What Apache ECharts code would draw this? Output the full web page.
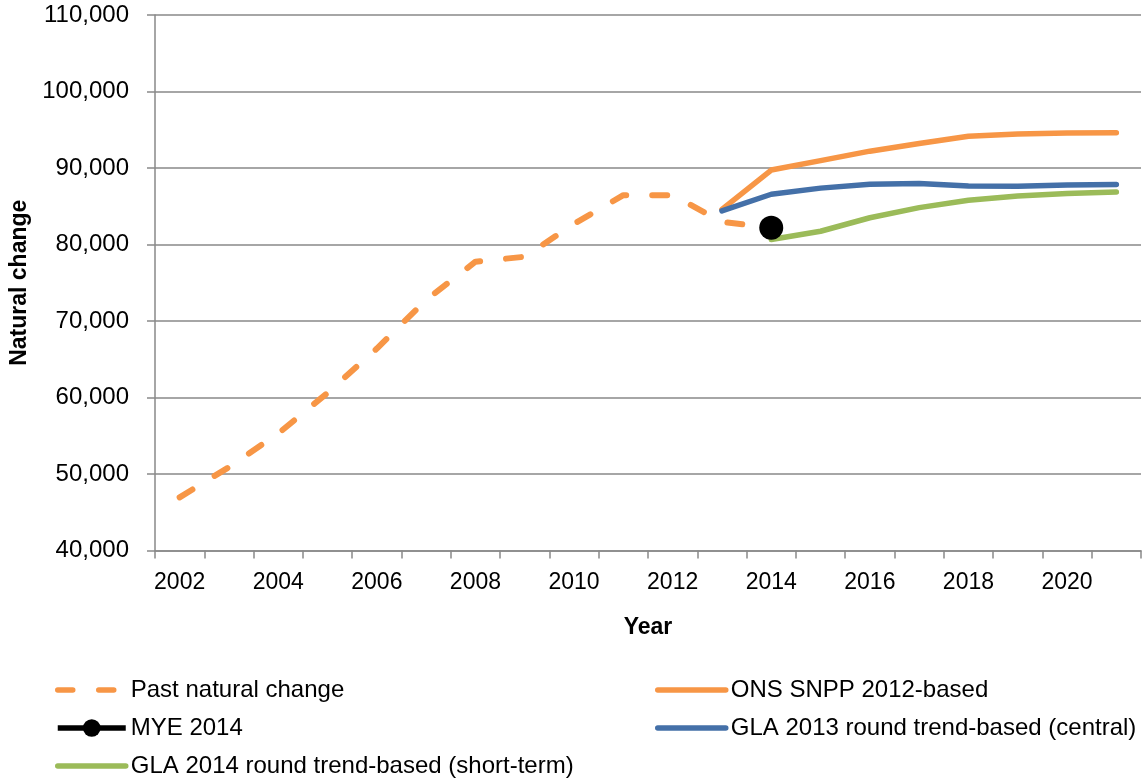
<!DOCTYPE html>
<html>
<head>
<meta charset="utf-8">
<script src="https://cdn.jsdelivr.net/npm/echarts@6/dist/echarts.min.js"></script>
<style>
html, body { margin: 0; padding: 0; background: #fff; }
#chart { width: 1146px; height: 782px; }
</style>
</head>
<body>
<div id="chart"></div>
<script>
// years on the x axis
var years = ['2002', '2003', '2004', '2005', '2006', '2007', '2008', '2009', '2010', '2011',
    '2012', '2013', '2014', '2015', '2016', '2017', '2018', '2019', '2020', '2021'];

// past natural change (dashed)
var pastNatural = [46950, 50900, 55300, 60600, 66400, 72750, 77750, 78400, 82700, 86450,
    86450, 82950, 82200, null, null, null, null, null, null, null];

// MYE 2014 single point
var mye2014 = [null, null, null, null, null, null, null, null, null, null,
    null, null, 82200, null, null, null, null, null, null, null];

// projections
var onsSnpp2012 = [null, null, null, null, null, null, null, null, null, null,
    null, 84600, 89730, 90970, 92200, 93200, 94140, 94440, 94570, 94620];
var gla2013Central = [null, null, null, null, null, null, null, null, null, null,
    null, 84400, 86570, 87370, 87890, 87980, 87650, 87620, 87780, 87850];
var gla2014Short = [null, null, null, null, null, null, null, null, null, null,
    null, null, 80650, 81730, 83500, 84820, 85780, 86350, 86660, 86850];

// y axis ticks
var yMin = 40000, yMax = 110000, yStep = 10000;

var FONT = '"Liberation Sans", Arial, sans-serif';
var GREY = '#898989';

var chart = echarts.init(document.getElementById('chart'));

// legend entry: thick line, no marker unless asked
function legendItem(name, withMarker) {
    return {
        name: name,
        itemStyle: withMarker ? {} : { opacity: 0 },
        lineStyle: { width: 5.5 }
    };
}

var legendBase = {
    orient: 'vertical',
    top: 678,
    height: 120,
    padding: 0,
    itemWidth: 68,
    itemHeight: 22,
    itemGap: 14,
    textStyle: { fontFamily: FONT, fontSize: 24, color: '#000', lineHeight: 24 }
};

chart.setOption({
    animation: false,
    backgroundColor: '#fff',
    textStyle: { fontFamily: FONT, color: '#000' },
    grid: { left: 155, right: 5, top: 15, bottom: 231.5, containLabel: false },
    legend: [
        Object.assign({}, legendBase, {
            left: 55,
            data: [
                legendItem('Past natural change', false),
                legendItem('MYE 2014', true),
                legendItem('GLA 2014 round trend-based (short-term)', false)
            ]
        }),
        Object.assign({}, legendBase, {
            left: 655,
            data: [
                legendItem('ONS SNPP 2012-based', false),
                legendItem('GLA 2013 round trend-based (central)', false)
            ]
        })
    ],
    xAxis: {
        type: 'category',
        data: years,
        boundaryGap: true,
        name: 'Year',
        nameLocation: 'middle',
        nameGap: 66,
        nameTextStyle: { fontFamily: FONT, fontSize: 23, fontWeight: 'bold', color: '#000' },
        axisLine: { lineStyle: { color: GREY, width: 1.5 } },
        axisTick: { show: true, interval: 0, length: 8, lineStyle: { color: GREY, width: 1.5 } },
        axisLabel: { interval: 1, margin: 21, fontFamily: FONT, fontSize: 23, color: '#000' },
        splitLine: { show: false }
    },
    yAxis: {
        type: 'value',
        min: yMin,
        max: yMax,
        interval: yStep,
        name: 'Natural change',
        nameLocation: 'middle',
        nameGap: 122,
        nameTextStyle: { fontFamily: FONT, fontSize: 23, fontWeight: 'bold', color: '#000' },
        axisLine: { show: true, lineStyle: { color: GREY, width: 1.5 } },
        axisTick: { show: true, length: 8, lineStyle: { color: GREY, width: 1.5 } },
        axisLabel: {
            margin: 26,
            fontFamily: FONT,
            fontSize: 24,
            color: '#000',
            formatter: function (v) { return v.toLocaleString('en-US'); }
        },
        splitLine: { show: true, lineStyle: { color: GREY, width: 1.5 } }
    },
    series: [{
        name: 'Past natural change',
        type: 'line',
        data: pastNatural,
        symbol: 'none',
        itemStyle: { color: '#F79646' },
        lineStyle: { color: '#F79646', width: 6, type: [15, 26], cap: 'round', join: 'round' }
    }, {
        name: 'ONS SNPP 2012-based',
        type: 'line',
        data: onsSnpp2012,
        symbol: 'none',
        itemStyle: { color: '#F79646' },
        lineStyle: { color: '#F79646', width: 5.5, cap: 'round', join: 'round' }
    }, {
        name: 'GLA 2013 round trend-based (central)',
        type: 'line',
        data: gla2013Central,
        symbol: 'none',
        itemStyle: { color: '#4470A8' },
        lineStyle: { color: '#4470A8', width: 5.5, cap: 'round', join: 'round' }
    }, {
        name: 'GLA 2014 round trend-based (short-term)',
        type: 'line',
        data: gla2014Short,
        symbol: 'none',
        itemStyle: { color: '#9BBB59' },
        lineStyle: { color: '#9BBB59', width: 5.5, cap: 'round', join: 'round' }
    }, {
        name: 'MYE 2014',
        type: 'line',
        data: mye2014,
        symbol: 'circle',
        symbolSize: 24,
        showSymbol: true,
        z: 5,
        itemStyle: { color: '#000' },
        lineStyle: { color: '#000', width: 5 }
    }]
});
</script>
</body>
</html>
